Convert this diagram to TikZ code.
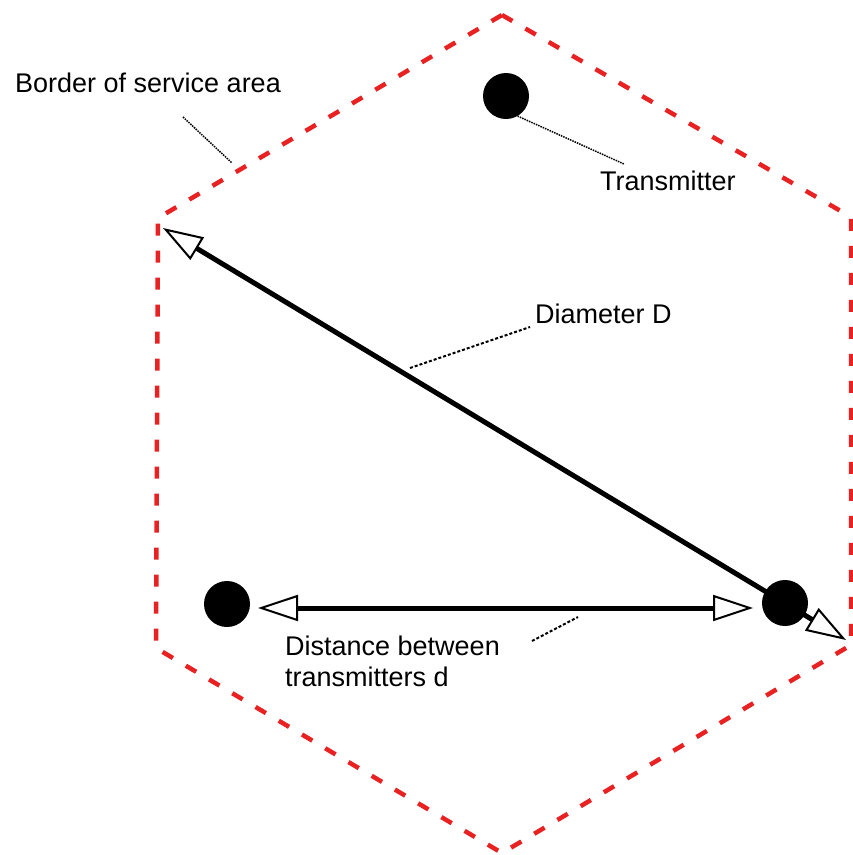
\documentclass[tikz,border=0pt]{standalone}
\usepackage{fontspec}
\setmainfont{Liberation Sans}
\usetikzlibrary{arrows.meta}
\definecolor{borderred}{RGB}{232,34,34}

\begin{document}
\begin{tikzpicture}[x=1pt, y=-1pt, font=\fontsize{27}{31}\selectfont,
  >={Triangle[fill=white, length=40pt, width=26pt, line width=2pt]},
  tx/.style={circle, fill=black, inner sep=0pt, minimum size=46pt},
  lbl/.style={inner sep=0pt, anchor=base west},
  leader/.style={line width=1.5pt, densely dotted}]
\useasboundingbox (0,0) rectangle (853,855);
% service area
\draw[borderred, line width=4.5pt, dash pattern=on 12pt off 15pt]
  (502,15) -- (851,217) -- (851,645) -- (502,853) -- (156,648) -- (158,218) -- cycle;
% transmitters
\node[tx] (txtop) at (506,96) {};
\node[tx] (txleft) at (227,604) {};
\node[tx] (txright) at (785,603) {};
% arrows
\coordinate (dtop) at (163,228);
\coordinate (dbot) at (846,640);
\coordinate (dl) at (258,608);
\coordinate (dr) at (753,608);
\draw[line width=5pt, <->] (dl) -- (dr);
\draw[line width=5pt, <->] (dtop) -- (dbot);
% labels
\node[lbl] (border) at (15,92) {Border of service area};
\node[lbl] (txlabel) at (600,190) {Transmitter};
\node[lbl] (diam) at (535,323) {Diameter D};
\node[lbl, align=left] (dist) at (285,686) {Distance between\\transmitters d};
\coordinate (b1) at (183,117);
\coordinate (b2) at (232,163);
\coordinate (t2) at (624,164);
\coordinate (m1) at (410,368);
\coordinate (m2) at (530,327);
\coordinate (s1) at (532,641);
\coordinate (s2) at (578,617);
\draw[leader] (b1) -- (b2);
\draw[leader] (txtop.-60) -- (t2);
\draw[line width=2pt, densely dashed] (m1) -- (m2);
\draw[line width=2pt, densely dashed] (s1) -- (s2);
\end{tikzpicture}
\end{document}
